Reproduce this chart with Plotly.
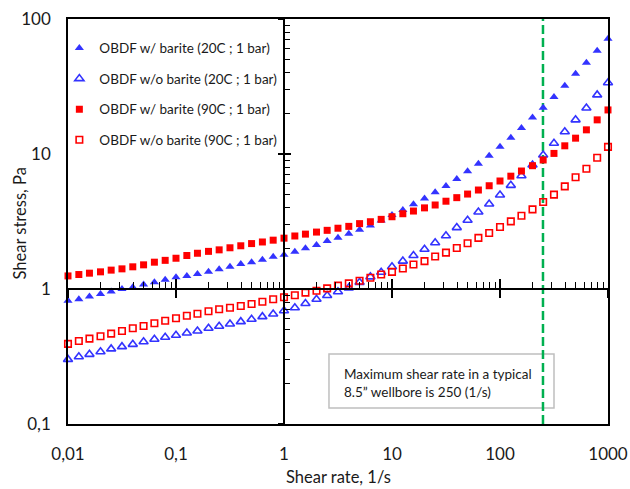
import plotly.graph_objects as go

# ---------------- data ----------------
shear_rate = [0.01, 0.0126, 0.0158, 0.02, 0.0251, 0.0316, 0.0398, 0.0501, 0.0631, 0.0794,
              0.1, 0.126, 0.158, 0.2, 0.251, 0.316, 0.398, 0.501, 0.631, 0.794,
              1, 1.26, 1.58, 2, 2.51, 3.16, 3.98, 5.01, 6.31, 7.94,
              10, 12.6, 15.8, 20, 25.1, 31.6, 39.8, 50.1, 63.1, 79.4,
              100, 126, 158, 200, 251, 316, 398, 501, 631, 794,
              1000]

obdf_w_barite_20c = [0.82, 0.84, 0.88, 0.92, 0.96, 1.00, 1.03, 1.08, 1.12, 1.17,
                     1.22, 1.25, 1.29, 1.34, 1.40, 1.46, 1.53, 1.58, 1.65, 1.73,
                     1.79, 1.89, 2.00, 2.12, 2.27, 2.40, 2.57, 2.75, 2.96, 3.22,
                     3.53, 3.85, 4.24, 4.68, 5.20, 5.79, 6.53, 7.44, 8.48, 9.71,
                     11.3, 13.2, 15.6, 18.6, 22.0, 26.4, 32.0, 39.3, 47.5, 58.2,
                     71.5]

obdf_wo_barite_20c = [0.301, 0.315, 0.328, 0.343, 0.360, 0.374, 0.389, 0.407, 0.424, 0.439,
                      0.454, 0.472, 0.489, 0.512, 0.530, 0.551, 0.573, 0.597, 0.624, 0.653,
                      0.690, 0.727, 0.78, 0.84, 0.895, 0.955, 1.02, 1.12, 1.23, 1.33,
                      1.46, 1.61, 1.77, 1.97, 2.20, 2.48, 2.85, 3.23, 3.72, 4.26,
                      4.97, 5.86, 6.90, 8.29, 9.84, 12.0, 14.6, 17.9, 21.9, 27.4,
                      33.7]

obdf_w_barite_90c = [1.25, 1.28, 1.31, 1.34, 1.38, 1.41, 1.46, 1.51, 1.58, 1.63,
                     1.69, 1.77, 1.84, 1.90, 1.95, 2.02, 2.09, 2.17, 2.23, 2.30,
                     2.38, 2.47, 2.55, 2.64, 2.72, 2.82, 2.91, 3.05, 3.15, 3.28,
                     3.43, 3.61, 3.78, 3.99, 4.19, 4.47, 4.75, 5.05, 5.41, 5.82,
                     6.31, 6.85, 7.48, 8.19, 9.03, 10.1, 11.5, 13.1, 15.1, 17.9,
                     21.2]

obdf_wo_barite_90c = [0.392, 0.412, 0.429, 0.447, 0.467, 0.489, 0.512, 0.532, 0.557, 0.582,
                      0.607, 0.634, 0.656, 0.684, 0.708, 0.727, 0.748, 0.774, 0.805, 0.839,
                      0.868, 0.898, 0.940, 0.971, 1.01, 1.06, 1.10, 1.15, 1.21, 1.28,
                      1.34, 1.42, 1.52, 1.61, 1.74, 1.86, 2.01, 2.18, 2.39, 2.60,
                      2.88, 3.17, 3.49, 3.89, 4.41, 5.00, 5.76, 6.72, 7.78, 9.39,
                      11.3]

series_names = ["OBDF w/ barite (20C ; 1 bar)", "OBDF w/o barite (20C ; 1 bar)",
                "OBDF w/ barite (90C ; 1 bar)", "OBDF w/o barite (90C ; 1 bar)"]

x_tick_vals = [0.01, 0.1, 1, 10, 100, 1000]
x_tick_text = ["0,01", "0,1", "1", "10", "100", "1000"]
y_tick_vals = [0.1, 1, 10, 100]
y_tick_text = ["0,1", "1", "10", "100"]
x_minor = [m * 10 ** k for k in range(-2, 3) for m in range(2, 10)]
y_minor = [m * 10 ** k for k in range(-1, 2) for m in range(2, 10)]

max_shear_rate = 250
y_limits = [0.1, 100]
note_text = "Maximum shear rate in a typical<br>8.5\u201d wellbore is 250 (1/s)"
x_title = "Shear rate, 1/s"
y_title = "Shear stress, Pa"

# ---------------- styles ----------------
BLUE = "#3333FF"
RED = "#FF0000"
GREEN = "#00B050"
FONT = "Lato"
TXT = "#1a1a1a"

fig = go.Figure()

styles = [
    dict(symbol="triangle-up", size=8, color=BLUE, line=dict(width=0)),
    dict(symbol="triangle-up-open", size=8, color=BLUE, line=dict(width=1.6, color=BLUE)),
    dict(symbol="square", size=7, color=RED, line=dict(width=0)),
    dict(symbol="square-open", size=6.5, color=RED, line=dict(width=1.6, color=RED)),
]
series = [obdf_w_barite_20c, obdf_wo_barite_20c, obdf_w_barite_90c, obdf_wo_barite_90c]

fig.add_trace(go.Scatter(x=[max_shear_rate, max_shear_rate], y=y_limits, mode="lines",
                         line=dict(color=GREEN, width=2.5, dash="9px,4px"),
                         showlegend=False, hoverinfo="skip"))

for name, ys, st in zip(series_names, series, styles):
    fig.add_trace(go.Scatter(x=shear_rate, y=ys, mode="markers", name=name,
                             legendgroup=name, marker=st, cliponaxis=False))

# dummy traces for the crossing axes
fig.add_trace(go.Scatter(x=[], y=[], xaxis="x2", yaxis="y2", showlegend=False, hoverinfo="skip"))
fig.add_trace(go.Scatter(x=[], y=[], xaxis="x3", yaxis="y3", showlegend=False, hoverinfo="skip"))

axis_common = dict(showgrid=False, zeroline=False, automargin=False)

fig.update_layout(
    width=630, height=489,
    margin=dict(l=68, r=22, t=19, b=65, pad=0),
    paper_bgcolor="white", plot_bgcolor="white",
    font=dict(family=FONT, color=TXT),
    xaxis=dict(type="log", range=[-2, 3], showline=True, mirror=True, linecolor="black",
               linewidth=1.5, ticks="", tickmode="array", tickvals=x_tick_vals,
               ticktext=x_tick_text, tickfont=dict(size=17, family=FONT, color=TXT),
               ticklabelstandoff=14, **axis_common),
    yaxis=dict(type="log", range=[-1, 2], showline=True, mirror=True, linecolor="black",
               linewidth=1.5, ticks="", tickmode="array", tickvals=y_tick_vals,
               ticktext=y_tick_text, tickfont=dict(size=17, family=FONT, color=TXT),
               ticklabelstandoff=12, **axis_common),
    xaxis2=dict(type="log", range=[-2, 3], overlaying="x", anchor="free", position=1 / 3,
                showline=True, linecolor="black", linewidth=2, ticks="inside", ticklen=9,
                tickwidth=1.5, tickcolor="black", tickmode="array", tickvals=x_tick_vals,
                showticklabels=False,
                minor=dict(tickmode="array", tickvals=x_minor, ticks="inside", ticklen=6,
                           tickwidth=1.3, tickcolor="black", showgrid=False),
                **axis_common),
    xaxis3=dict(type="log", range=[-2, 3], overlaying="x", anchor="free", position=1 / 3,
                showline=False, ticks="outside", ticklen=8, tickwidth=1.5, tickcolor="black",
                tickmode="array", tickvals=x_tick_vals, showticklabels=False, **axis_common),
    yaxis2=dict(type="log", range=[-1, 2], overlaying="y", anchor="free", position=0.4,
                showline=True, linecolor="black", linewidth=2, ticks="inside", ticklen=6,
                tickwidth=1.5, tickcolor="black", tickmode="array", tickvals=y_tick_vals,
                showticklabels=False,
                minor=dict(tickmode="array", tickvals=y_minor, ticks="inside", ticklen=5,
                           tickwidth=1.3, tickcolor="black", showgrid=False),
                **axis_common),
    yaxis3=dict(type="log", range=[-1, 2], overlaying="y", anchor="free", position=0.4,
                showline=False, ticks="outside", ticklen=6, tickwidth=1.5, tickcolor="black",
                tickmode="array", tickvals=y_tick_vals, showticklabels=False, **axis_common),
    legend=dict(x=-0.016, y=0.966, xanchor="left", yanchor="top", bgcolor="rgba(0,0,0,0)",
                font=dict(size=13.5, family=FONT, color=TXT), tracegroupgap=10,
                traceorder="grouped"),
    shapes=[dict(type="rect", xref="paper", yref="paper", x0=0.4833, x1=0.9, y0=0.0395,
                 y1=0.1728, line=dict(color="#BFBFBF", width=1.5), fillcolor="white",
                 layer="below")],
    annotations=[
        dict(xref="paper", yref="paper", x=0.5074, y=0.102, xanchor="left",
             yanchor="middle", align="left", showarrow=False, text=note_text,
             font=dict(size=13.5, family=FONT, color=TXT)),
        dict(xref="paper", yref="paper", x=0.5, y=-0.132, xanchor="center",
             yanchor="middle", showarrow=False, text=x_title,
             font=dict(size=16.5, family=FONT, color=TXT)),
        dict(xref="paper", yref="paper", x=-0.0889, y=0.495, xanchor="center",
             yanchor="middle", showarrow=False, text=y_title, textangle=-90,
             font=dict(size=16.5, family=FONT, color=TXT)),
    ],
)

fig.write_html("out.html")
